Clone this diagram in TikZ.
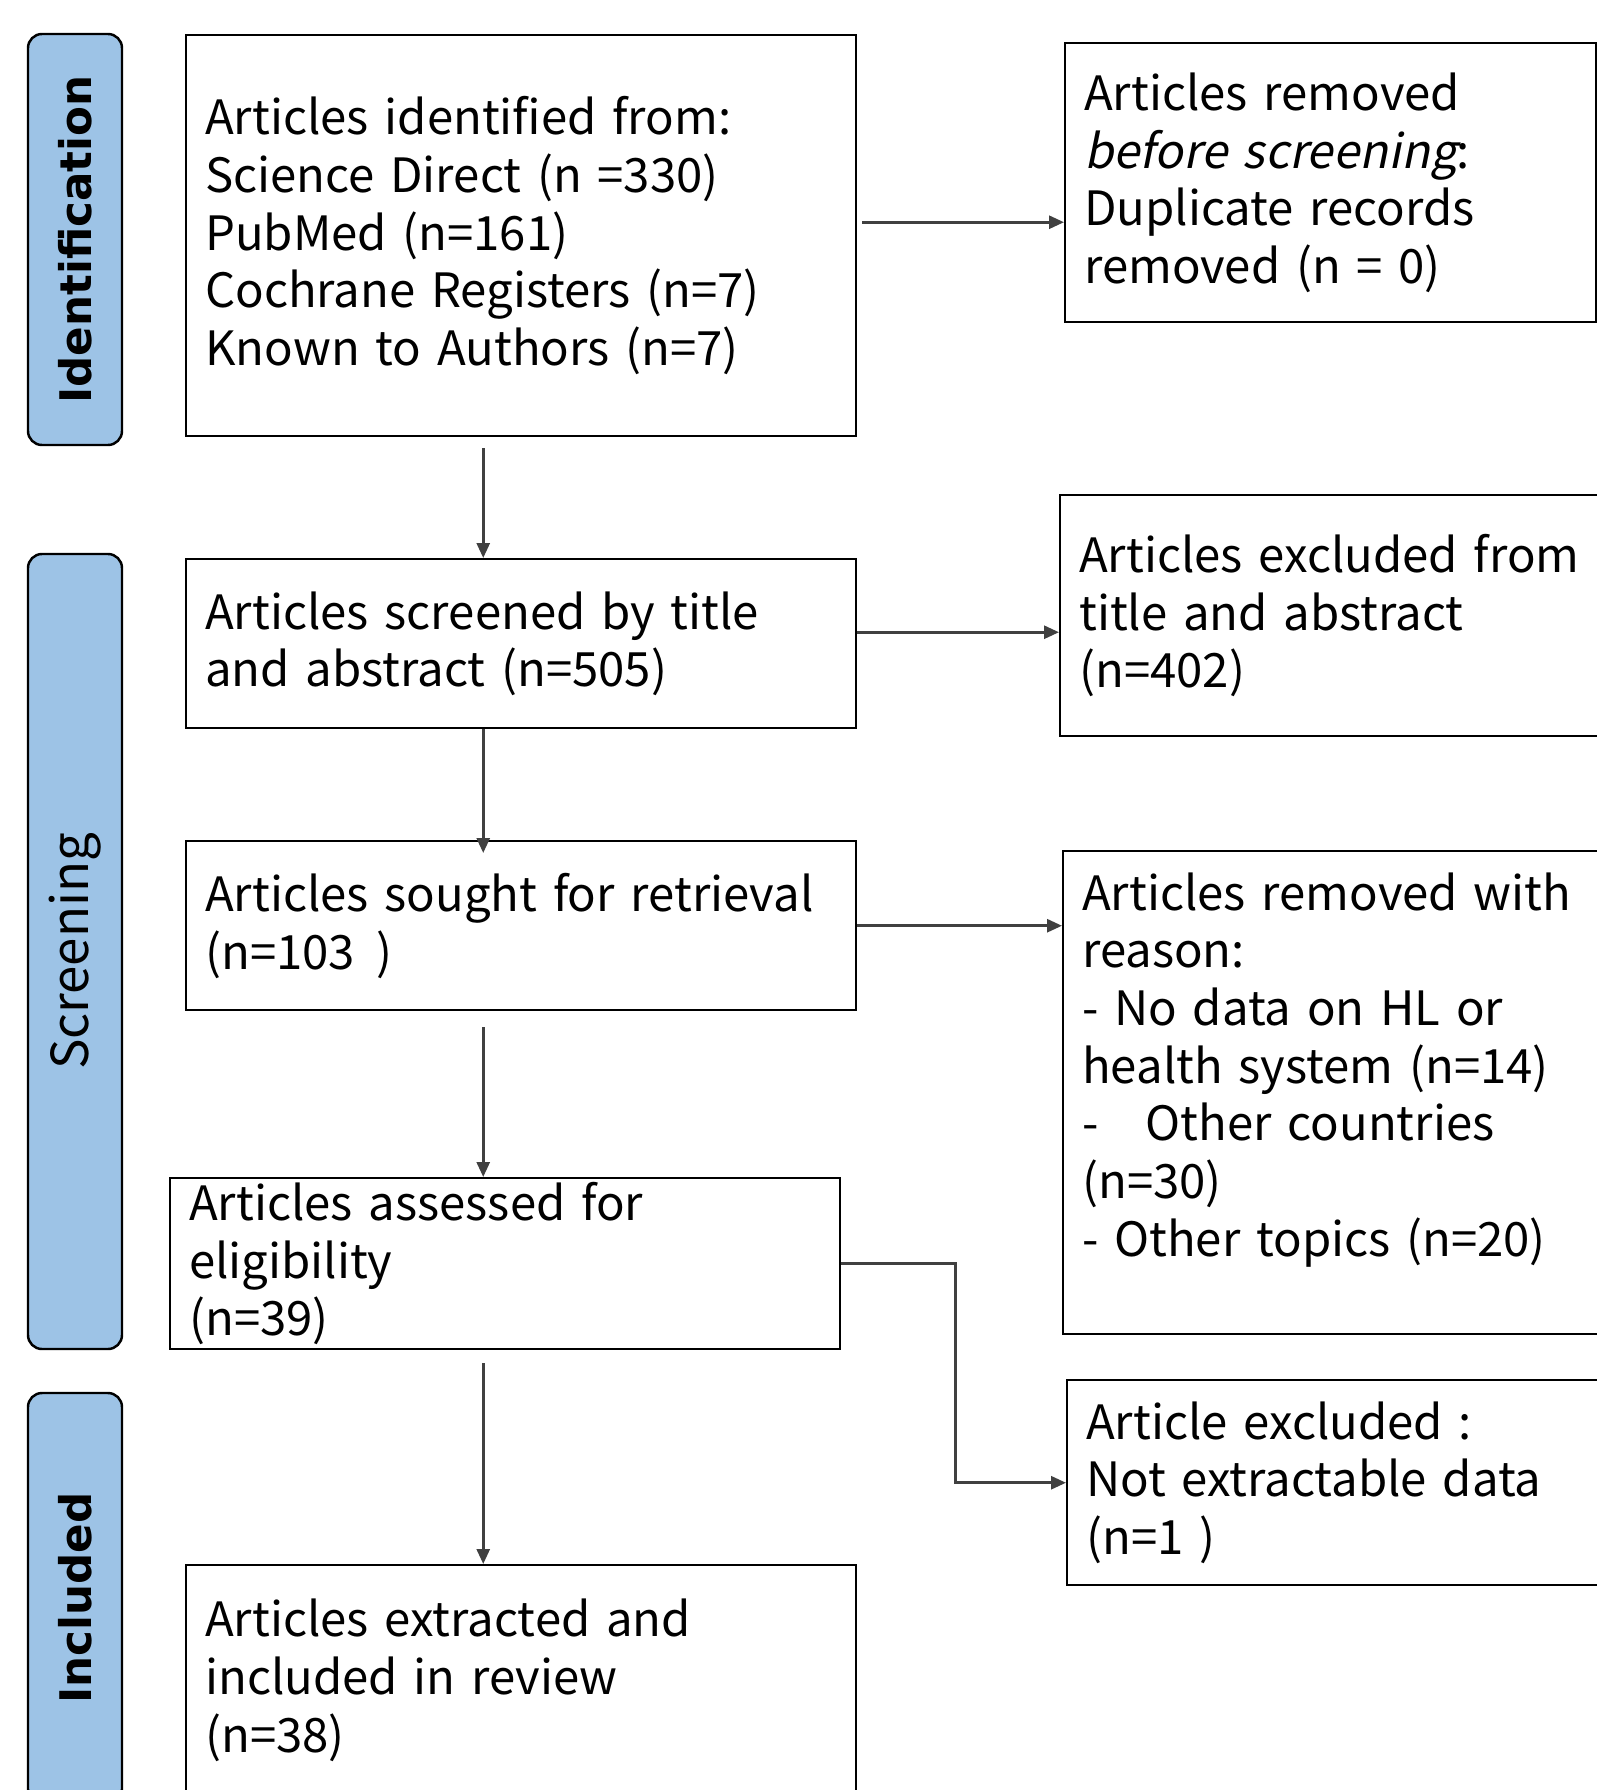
\documentclass[tikz,border=0pt]{standalone}
\usepackage{fontspec}
\setmainfont{Noto Sans CJK KR}[AutoFakeSlant=0.2]
\newfontfamily\bandfont{DejaVu Sans}
\usepackage{tikz}
\usetikzlibrary{arrows.meta,calc}
\usepackage{xcolor}
\definecolor{bandblue}{RGB}{157,195,230}
\definecolor{linkgray}{RGB}{64,64,64}

\begin{document}
\begin{tikzpicture}[
    box/.style={draw=black,line width=0.7pt,anchor=north west,align=left,
      inner xsep=0.19cm,inner ysep=0pt,font=\fontsize{13.45}{16.4}\selectfont},
    band/.style={draw=black,line width=0.7pt,fill=bandblue,rounded corners=0.14cm,
      rotate=90,minimum height=0.94cm,inner sep=0pt},
    conn/.style={draw=linkgray,line width=0.8pt,-{Triangle[length=0.15cm,width=0.13cm]}}
  ]
    \useasboundingbox (0,0) rectangle (15.97,-17.90);
    % Phase bands
    \node[band,minimum width=4.11cm,font=\bandfont\bfseries\fontsize{12.4}{14}\selectfont]
      (idband) at (0.75,-2.395) {Identification};
    \node[band,minimum width=7.95cm,font=\fontsize{14.5}{17}\selectfont]
      (scrband) at (0.75,-9.515) {\raisebox{-0.05cm}{Screening}};
    \node[band,minimum width=4.10cm,font=\bandfont\bfseries\fontsize{12.4}{14}\selectfont]
      (incband) at (0.75,-15.98) {Included};
    % Main column
    \node[box,text width=6.32cm,minimum height=4.01cm] (ident) at (1.85,-0.34)
      {Articles identified from:\\Science Direct (n =330)\\PubMed (n=161)\\
       Cochrane Registers (n=7)\\Known to Authors (n=7)};
    \node[box,text width=6.32cm,minimum height=1.69cm] (screen) at (1.85,-5.58)
      {Articles screened by title\\and abstract (n=505)};
    \node[box,text width=6.32cm,minimum height=1.69cm] (sought) at (1.85,-8.40)
      {Articles sought for retrieval\\(n=103\hspace{0.45em})};
    \node[box,text width=6.32cm,minimum height=1.71cm] (assess) at (1.69,-11.77)
      {Articles assessed for\\eligibility\\(n=39)};
    \node[box,text width=6.32cm,minimum height=2.30cm] (incl) at (1.85,-15.64)
      {Articles extracted and\\included in review\\(n=38)};
    % Side column
    \node[box,text width=4.93cm,minimum height=2.79cm] (dupl) at (10.64,-0.42)
      {Articles removed\\\textit{before screening}:\\Duplicate records\\removed (n = 0)};
    \node[box,text width=5.07cm,minimum height=2.41cm] (excl) at (10.59,-4.94)
      {Articles excluded from\\title and abstract\\(n=402)};
    \node[box,text width=5.02cm,minimum height=4.83cm] (reason) at (10.62,-8.50)
      {Articles removed with\\reason:\\- No data on HL or\\health system (n=14)\\
       -\ \ \ Other countries\\(n=30)\\- Other topics (n=20)\\[-0.18cm]\strut};
    \node[box,text width=4.98cm,minimum height=2.05cm] (notext) at (10.66,-13.79)
      {Article excluded :\\Not extractable data\\(n=1 )};
    % Links
    \draw[conn] ([shift={(0.05,0.135)}]ident.east) -- ([yshift=0.135cm]ident.east -| dupl.west);
    \draw[conn] ([yshift=0.115cm]screen.east) -- ([yshift=0.115cm]screen.east -| excl.west);
    \draw[conn] (sought.east) -- (sought.east -| reason.west);
    \draw[conn] (assess.east) -- ++(1.14,0) |- (notext.west);
    \draw[conn] ([shift={(-0.38,-0.11)}]ident.south) -- ([xshift=-0.38cm]screen.north);
    \draw[conn] ([xshift=-0.38cm]screen.south) -- ([shift={(-0.38,-0.13)}]sought.north);
    \draw[conn] ([shift={(-0.38,-0.16)}]sought.south) -- ([xshift=-0.38cm]sought.south |- assess.north);
    \draw[conn] ([shift={(-0.22,-0.13)}]assess.south) -- ([xshift=-0.22cm]assess.south |- incl.north);
  \end{tikzpicture}
\end{document}
